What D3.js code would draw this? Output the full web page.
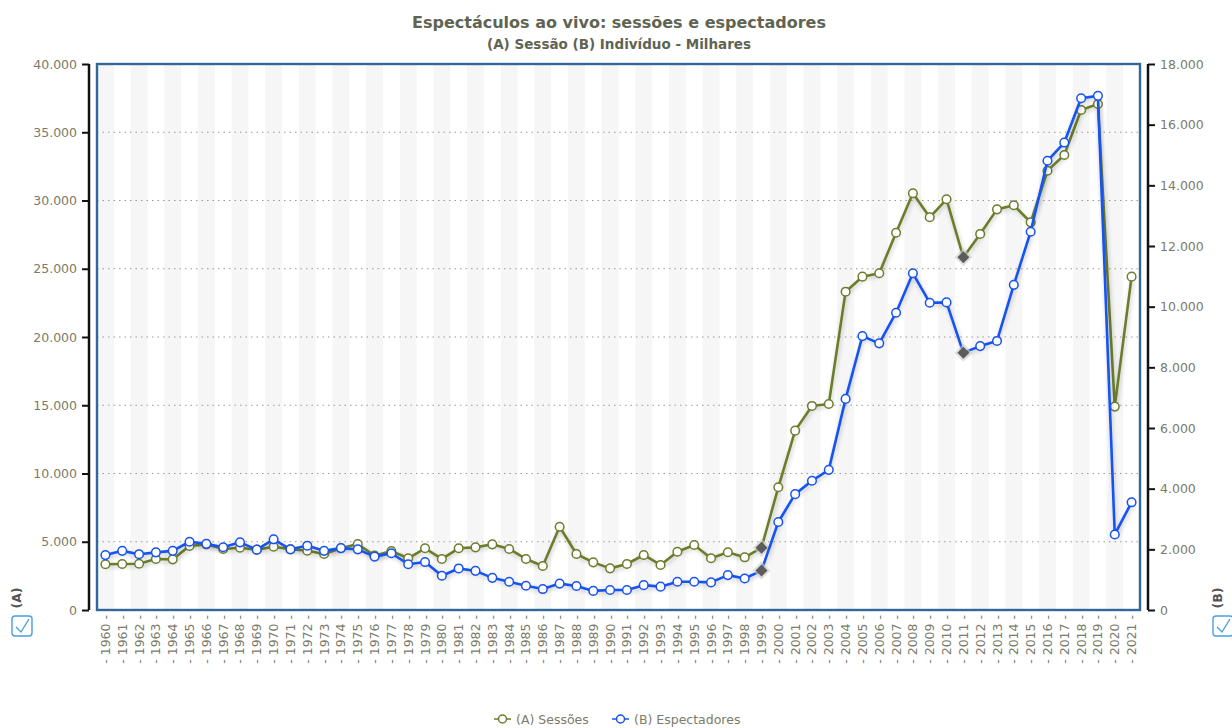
<!DOCTYPE html>
<html>
<head>
<meta charset="utf-8">
<script src="https://cdn.jsdelivr.net/npm/d3@7"></script>
<style>
  body { margin: 0; background: #fff; }
  svg text { font-family: "DejaVu Sans", Verdana, sans-serif; }
</style>
</head>
<body>
<div id="chart"></div>
<script>
(function(d3) {
  'use strict';

  // anos 1960..2021
  var years = ['1960','1961','1962','1963','1964','1965','1966','1967','1968','1969',
    '1970','1971','1972','1973','1974','1975','1976','1977','1978','1979',
    '1980','1981','1982','1983','1984','1985','1986','1987','1988','1989',
    '1990','1991','1992','1993','1994','1995','1996','1997','1998','1999',
    '2000','2001','2002','2003','2004','2005','2006','2007','2008','2009',
    '2010','2011','2012','2013','2014','2015','2016','2017','2018','2019',
    '2020','2021'];

  // (A) Sessões - milhares
  var sessoes = [3350, 3370, 3390, 3740, 3710, 4690, 4810, 4470, 4560, 4420,
    4640, 4450, 4340, 4100, 4520, 4830, 3980, 4320, 3790, 4520,
    3740, 4520, 4590, 4810, 4470, 3740, 3220, 6100, 4100, 3490,
    3050, 3370, 4030, 3300, 4270, 4760, 3790, 4230, 3860, 4560,
    8990, 13140, 14950, 15090, 23320, 24420, 24670, 27640, 30530, 28770,
    30090, 25840, 27550, 29350, 29650, 28400, 32180, 33330, 36630, 37070,
    14900, 24420];

  // (B) Espectadores - milhares
  var espectadores = [1810, 1950, 1840, 1900, 1950, 2250, 2180, 2070, 2230, 1990,
    2330, 2000, 2120, 1950, 2040, 2000, 1760, 1870, 1510, 1580,
    1130, 1370, 1290, 1060, 930, 800, 690, 870, 790, 630,
    660, 660, 820, 770, 930, 930, 910, 1150, 1040, 1300,
    2900, 3820, 4260, 4620, 6960, 9030, 8790, 9800, 11100, 10130,
    10140, 8480, 8700, 8870, 10720, 12470, 14810, 15410, 16870, 16950,
    2490, 3550];

  // quebras de série
  var breaks = ['1999', '2011'];

  var leftTicks = [0, 5000, 10000, 15000, 20000, 25000, 30000, 35000, 40000];
  var rightTicks = [0, 2000, 4000, 6000, 8000, 10000, 12000, 14000, 16000, 18000];

  var width = 1232, height = 728;
  var plot = { left: 97, right: 1140, top: 64, bottom: 610 };
  var green = '#6b7d2c', blue = '#1652f0';
  var labelColor = '#7b7b6a';

  var pt = d3.formatLocale({ decimal: ',', thousands: '.', grouping: [3], currency: ['', '€'] });
  var fmt = pt.format(',d');

  var svg = d3.select('#chart').append('svg')
    .attr('width', width).attr('height', height);

  var defs = svg.append('defs');
  var sh = defs.append('filter').attr('id', 'shadow')
    .attr('x', '-5%').attr('y', '-5%').attr('width', '110%').attr('height', '120%');
  sh.append('feDropShadow').attr('dx', 1).attr('dy', 2).attr('stdDeviation', 2)
    .attr('flood-color', '#000').attr('flood-opacity', 0.22);

  var x = d3.scaleBand().domain(years).range([plot.left, plot.right]);
  var cx = function(yr) { return x(yr) + x.bandwidth() / 2; };
  var yA = d3.scaleLinear().domain([0, 40000]).range([plot.bottom, plot.top]);
  var yB = d3.scaleLinear().domain([0, 18000]).range([plot.bottom, plot.top]);

  // faixas alternadas
  svg.append('g').selectAll('rect')
    .data(years.filter(function(d, i) { return i % 2 === 0; }))
    .enter().append('rect')
    .attr('x', function(d) { return x(d); })
    .attr('y', plot.top)
    .attr('width', x.bandwidth())
    .attr('height', plot.bottom - plot.top)
    .attr('fill', '#f6f6f6');

  // grelha
  svg.append('g').selectAll('line')
    .data(leftTicks.slice(1, -1))
    .enter().append('line')
    .attr('x1', plot.left).attr('x2', plot.right)
    .attr('y1', function(d) { return yA(d); })
    .attr('y2', function(d) { return yA(d); })
    .attr('stroke', '#999').attr('stroke-width', 1)
    .attr('stroke-dasharray', '1.5,4');

  // títulos
  svg.append('text').attr('x', 619).attr('y', 28)
    .attr('text-anchor', 'middle').attr('font-size', 16).attr('font-weight', 'bold')
    .attr('fill', '#5f6452').text('Espectáculos ao vivo: sessões e espectadores');
  svg.append('text').attr('x', 619).attr('y', 49)
    .attr('text-anchor', 'middle').attr('font-size', 13.5).attr('font-weight', 'bold')
    .attr('fill', '#5f6452').text('(A) Sessão (B) Indivíduo - Milhares');

  // eixo esquerdo
  var axL = svg.append('g').attr('transform', 'translate(89,0)')
    .call(d3.axisLeft(yA).tickValues(leftTicks).tickFormat(fmt).tickSize(7).tickPadding(5));
  axL.select('.domain').attr('stroke', '#111').attr('stroke-width', 2.5).attr('d', 'M0,' + plot.top + 'V' + plot.bottom);
  axL.selectAll('.tick line').attr('stroke', '#111').attr('stroke-width', 2);
  axL.selectAll('.tick text').attr('fill', labelColor).attr('font-size', 12.5)
    .style('font-family', '"DejaVu Sans", Verdana, sans-serif');

  // eixo direito
  var axR = svg.append('g').attr('transform', 'translate(1148,0)')
    .call(d3.axisRight(yB).tickValues(rightTicks).tickFormat(fmt).tickSize(7).tickPadding(5));
  axR.select('.domain').attr('stroke', '#111').attr('stroke-width', 2.5).attr('d', 'M0,' + plot.top + 'V' + plot.bottom);
  axR.selectAll('.tick line').attr('stroke', '#111').attr('stroke-width', 2);
  axR.selectAll('.tick text').attr('fill', labelColor).attr('font-size', 12.5)
    .style('font-family', '"DejaVu Sans", Verdana, sans-serif');

  // rótulos do eixo x
  svg.append('g').selectAll('text')
    .data(years).enter().append('text')
    .attr('transform', function(d) { return 'translate(' + (cx(d) + 4.5) + ',615) rotate(-90)'; })
    .attr('text-anchor', 'end')
    .attr('font-size', 12.5).attr('fill', labelColor)
    .text(function(d) { return '- ' + d + ' -'; });

  // moldura
  svg.append('rect')
    .attr('x', plot.left).attr('y', plot.top)
    .attr('width', plot.right - plot.left).attr('height', plot.bottom - plot.top)
    .attr('fill', 'none').attr('stroke', '#336699').attr('stroke-width', 2.4);

  function drawSeries(values, yScale, color) {
    var pts = years.map(function(yr, i) { return { year: yr, value: values[i] }; });
    var line = d3.line()
      .x(function(d) { return cx(d.year); })
      .y(function(d) { return yScale(d.value); });
    var g = svg.append('g');
    g.append('path').datum(pts)
      .attr('d', line).attr('fill', 'none')
      .attr('stroke', color).attr('stroke-width', 2.6)
      .attr('stroke-linejoin', 'round')
      .attr('filter', 'url(#shadow)');
    g.selectAll('circle')
      .data(pts.filter(function(d) { return breaks.indexOf(d.year) < 0; }))
      .enter().append('circle')
      .attr('cx', function(d) { return cx(d.year); })
      .attr('cy', function(d) { return yScale(d.value); })
      .attr('r', 4.3)
      .attr('fill', '#fff').attr('stroke', color).attr('stroke-width', 1.5);
    var dia = g.selectAll('g.dia')
      .data(pts.filter(function(d) { return breaks.indexOf(d.year) >= 0; }))
      .enter().append('g')
      .attr('transform', function(d) { return 'translate(' + cx(d.year) + ',' + yScale(d.value) + ')'; });
    dia.append('path').attr('d', 'M0,-9L9,0L0,9L-9,0Z').attr('fill', '#ccc').attr('opacity', 0.6);
    dia.append('path').attr('d', 'M0,-6L6,0L0,6L-6,0Z').attr('fill', '#5c5c5c');
  }

  drawSeries(sessoes, yA, green);
  drawSeries(espectadores, yB, blue);

  // (A) / (B) e caixas
  function checkBox(x0, y0, label, lx) {
    svg.append('text')
      .attr('transform', 'translate(' + lx + ',' + 598 + ') rotate(-90)')
      .attr('text-anchor', 'middle').attr('font-size', 12.5).attr('font-weight', 'bold')
      .attr('fill', '#555').text(label);
    svg.append('rect').attr('x', x0).attr('y', y0).attr('width', 20).attr('height', 20)
      .attr('rx', 3).attr('fill', '#fff').attr('stroke', '#4a9fe0').attr('stroke-width', 1.4);
    svg.append('path')
      .attr('d', 'M' + (x0 + 4) + ',' + (y0 + 11) + 'L' + (x0 + 9) + ',' + (y0 + 16) + 'L' + (x0 + 17) + ',' + (y0 + 3))
      .attr('fill', 'none').attr('stroke', '#4a9fe0').attr('stroke-width', 1.4);
  }
  checkBox(12, 616, '(A)', 21);
  checkBox(1213, 616, '(B)', 1222);

  // legenda
  var legendData = [
    { label: '(A) Sessões', color: green, x: 494 },
    { label: '(B) Espectadores', color: blue, x: 612 }
  ];
  var lg = svg.append('g').selectAll('g').data(legendData).enter().append('g')
    .attr('transform', function(d) { return 'translate(' + d.x + ',719)'; });
  lg.append('line').attr('x1', 0).attr('x2', 17).attr('y1', 0).attr('y2', 0)
    .attr('stroke', function(d) { return d.color; }).attr('stroke-width', 1.5);
  lg.append('circle').attr('cx', 8.5).attr('cy', 0).attr('r', 4)
    .attr('fill', '#fff').attr('stroke', function(d) { return d.color; }).attr('stroke-width', 1.5);
  lg.append('text').attr('x', 22).attr('y', 4.5).attr('font-size', 12.5)
    .attr('fill', labelColor).text(function(d) { return d.label; });

})(window.d3);
</script>
</body>
</html>
